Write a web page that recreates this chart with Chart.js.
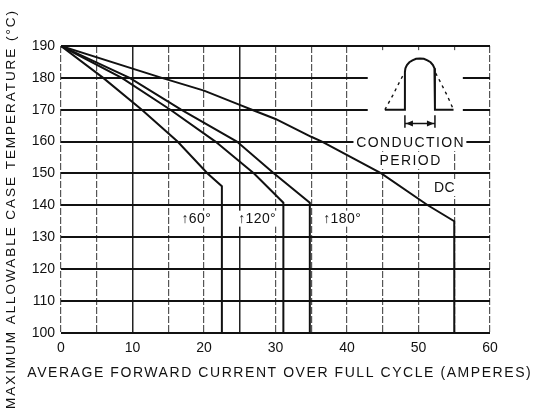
<!DOCTYPE html>
<html>
<head>
<meta charset="utf-8">
<script src="https://cdn.jsdelivr.net/npm/chart.js@4.4.1/dist/chart.umd.min.js"></script>
<style>
  html, body { margin: 0; padding: 0; background: #fff; }
  #wrap { width: 534px; height: 413px; }
</style>
</head>
<body>
<div id="wrap"><canvas id="chart" width="534" height="413"></canvas></div>
<script>
// axis ticks
const currentTicks = [0, 10, 20, 30, 40, 50, 60];
const tempTicks = [100, 110, 120, 130, 140, 150, 160, 170, 180, 190];

// curves (amperes, deg C)
const dcCurrent = [0, 14.1, 20, 25, 26.7, 30, 35, 36.5, 44.8, 51.3, 55, 55];
const dcTemp = [190, 180, 176.0, 171.5, 170, 167.1, 161.5, 160, 150, 140, 135, 100];

const c180Current = [0, 9.6, 16.8, 24.6, 29.8, 34.8, 34.8];
const c180Temp = [190, 180, 170, 160, 150, 140.8, 100];

const c120Current = [0, 8.5, 15.3, 21.6, 27, 31.1, 31.1];
const c120Temp = [190, 180, 170, 160, 150, 140.8, 100];

const c60Current = [0, 5.9, 11.3, 16.3, 20.5, 22.5, 22.5];
const c60Temp = [190, 180, 170, 160, 150, 146, 100];

// conduction period sketch (in chart units)
const pulseCurrent = [45.3, 48.1, 48.1, 48.17, 48.38, 48.72, 49.15, 49.66, 50.2,
  50.74, 51.25, 51.69, 52.02, 52.23, 52.3, 52.3, 54.9];
const pulseTemp = [170, 170, 181.9, 183.0, 184.0, 184.9, 185.5, 186.0, 186.1,
  186.0, 185.5, 184.9, 184.0, 183.0, 181.9, 170, 170];
const sineLeftCurrent = [45.3, 46.4, 47.3, 48.0];
const sineLeftTemp = [170, 174.5, 178.5, 181.5];
const sineRightCurrent = [52.4, 53.1, 54.0, 54.9];
const sineRightTemp = [181.5, 178.5, 174.5, 170];

const curveLabels = ['↑60°', '↑120°', '↑180°', 'DC'];
const insetTexts = ['CONDUCTION', 'PERIOD'];
const xTitle = 'AVERAGE FORWARD CURRENT OVER FULL CYCLE (AMPERES)';
const yTitle = 'MAXIMUM ALLOWABLE CASE TEMPERATURE (°C)';

// where the annotations sit (chart units)
const labelPos = [[18.9, 135.8], [27.4, 135.8], [39.3, 135.8], [53.6, 145.4]];
const insetTextPos = [[48.8, 159.5], [48.8, 153.9]];
const insetBox = { current: [42.9, 56.2], temp: [188.7, 161.5] };
const periodArrow = { from: 48.1, to: 52.3, temp: 165.7, tickTop: 168.3, tickBottom: 164.3 };

const FONT = "'Liberation Sans', Arial, Helvetica, sans-serif";
const INK = '#111';

function points(xs, ys) {
  return xs.map((x, i) => ({ x, y: ys[i] }));
}

const curveStyle = { showLine: true, borderColor: INK, borderWidth: 2, pointRadius: 0, tension: 0, fill: false };

function drawText(ctx, text, px, py, size, spacing, bg) {
  ctx.font = `${size}px ${FONT}`;
  ctx.letterSpacing = spacing + 'px';
  const w = ctx.measureText(text).width;
  if (bg) {
    ctx.fillStyle = '#fff';
    ctx.fillRect(px - w / 2 - 2, py - size / 2 - 1, w + 4, size + 2);
  }
  ctx.fillStyle = INK;
  ctx.textAlign = 'center';
  ctx.textBaseline = 'middle';
  ctx.fillText(text, px + spacing / 2, py);
}

function fitSpacing(ctx, text, size, width) {
  ctx.font = `${size}px ${FONT}`;
  ctx.letterSpacing = '0px';
  const w = ctx.measureText(text).width;
  return Math.max(0, (width - w) / text.length);
}

const insetPlugin = {
  id: 'inset',
  beforeDatasetsDraw(chart) {
    const { ctx, scales: { x, y } } = chart;
    const left = x.getPixelForValue(insetBox.current[0]);
    const right = x.getPixelForValue(insetBox.current[1]);
    const top = y.getPixelForValue(insetBox.temp[0]);
    const bottom = y.getPixelForValue(insetBox.temp[1]);
    ctx.save();
    ctx.fillStyle = '#fff';
    ctx.fillRect(left, top, right - left, bottom - top);
    ctx.restore();
  },
  afterDatasetsDraw(chart) {
    const { ctx, scales: { x, y } } = chart;
    ctx.save();

    // conduction period arrow
    const a = x.getPixelForValue(periodArrow.from);
    const b = x.getPixelForValue(periodArrow.to);
    const ay = y.getPixelForValue(periodArrow.temp);
    ctx.strokeStyle = INK;
    ctx.fillStyle = INK;
    ctx.lineWidth = 1.5;
    ctx.beginPath();
    ctx.moveTo(a, ay); ctx.lineTo(b, ay);
    ctx.moveTo(a, y.getPixelForValue(periodArrow.tickTop)); ctx.lineTo(a, y.getPixelForValue(periodArrow.tickBottom));
    ctx.moveTo(b, y.getPixelForValue(periodArrow.tickTop)); ctx.lineTo(b, y.getPixelForValue(periodArrow.tickBottom));
    ctx.stroke();
    ctx.beginPath();
    ctx.moveTo(a + 1, ay); ctx.lineTo(a + 8, ay - 3); ctx.lineTo(a + 8, ay + 3); ctx.closePath();
    ctx.moveTo(b - 1, ay); ctx.lineTo(b - 8, ay - 3); ctx.lineTo(b - 8, ay + 3); ctx.closePath();
    ctx.fill();

    insetTexts.forEach((t, i) => {
      const [cx, cy] = insetTextPos[i];
      drawText(ctx, t, x.getPixelForValue(cx), y.getPixelForValue(cy), 14, 1.4, true);
    });

    curveLabels.forEach((t, i) => {
      const [cx, cy] = labelPos[i];
      drawText(ctx, t, x.getPixelForValue(cx), y.getPixelForValue(cy), 14, 0.4, true);
    });
    ctx.restore();
  },
  afterDraw(chart) {
    const { ctx } = chart;
    ctx.save();
    const sx = fitSpacing(ctx, xTitle, 14, 505);
    drawText(ctx, xTitle, 279, 373, 14, sx, false);

    ctx.translate(11, 210);
    ctx.rotate(-Math.PI / 2);
    const sy = fitSpacing(ctx, yTitle, 13.5, 400);
    drawText(ctx, yTitle, 0, 0, 13.5, sy, false);
    ctx.restore();
  }
};

const solidVerticals = [10, 25];

new Chart(document.getElementById('chart'), {
  type: 'scatter',
  data: {
    datasets: [
      { ...curveStyle, label: 'DC', data: points(dcCurrent, dcTemp) },
      { ...curveStyle, label: '180°', data: points(c180Current, c180Temp) },
      { ...curveStyle, label: '120°', data: points(c120Current, c120Temp) },
      { ...curveStyle, label: '60°', data: points(c60Current, c60Temp) },
      { ...curveStyle, label: 'pulse', data: points(pulseCurrent, pulseTemp) },
      { ...curveStyle, label: 'sine L', data: points(sineLeftCurrent, sineLeftTemp), borderWidth: 1.4, borderDash: [3, 4] },
      { ...curveStyle, label: 'sine R', data: points(sineRightCurrent, sineRightTemp), borderWidth: 1.4, borderDash: [3, 4] }
    ]
  },
  options: {
    responsive: false,
    animation: false,
    layout: { padding: { top: 46, right: 44, left: 0, bottom: 0 } },
    plugins: { legend: { display: false }, tooltip: { enabled: false } },
    scales: {
      x: {
        type: 'linear',
        min: currentTicks[0],
        max: currentTicks[currentTicks.length - 1],
        afterFit: s => { s.height = 80.3; },
        ticks: {
          stepSize: 5,
          autoSkip: false,
          maxRotation: 0,
          padding: 7,
          color: INK,
          font: { family: FONT, size: 14 },
          callback: v => currentTicks.includes(v) ? String(v) : ''
        },
        grid: {
          drawTicks: false,
          color: c => (c.tick && solidVerticals.includes(c.tick.value)) ? '#222' : '#555',
          lineWidth: c => (c.tick && solidVerticals.includes(c.tick.value)) ? 1.5 : 1.2
        },
        border: {
          display: false,
          dash: c => (c.tick && solidVerticals.includes(c.tick.value)) ? [] : [7, 2]
        }
      },
      y: {
        type: 'linear',
        min: tempTicks[0],
        max: tempTicks[tempTicks.length - 1],
        afterFit: s => { s.width = 61; },
        ticks: {
          stepSize: 10,
          padding: 6,
          color: INK,
          font: { family: FONT, size: 14 }
        },
        grid: { drawTicks: false, color: INK, lineWidth: 2 },
        border: { display: false }
      }
    }
  },
  plugins: [insetPlugin]
});
</script>
</body>
</html>
